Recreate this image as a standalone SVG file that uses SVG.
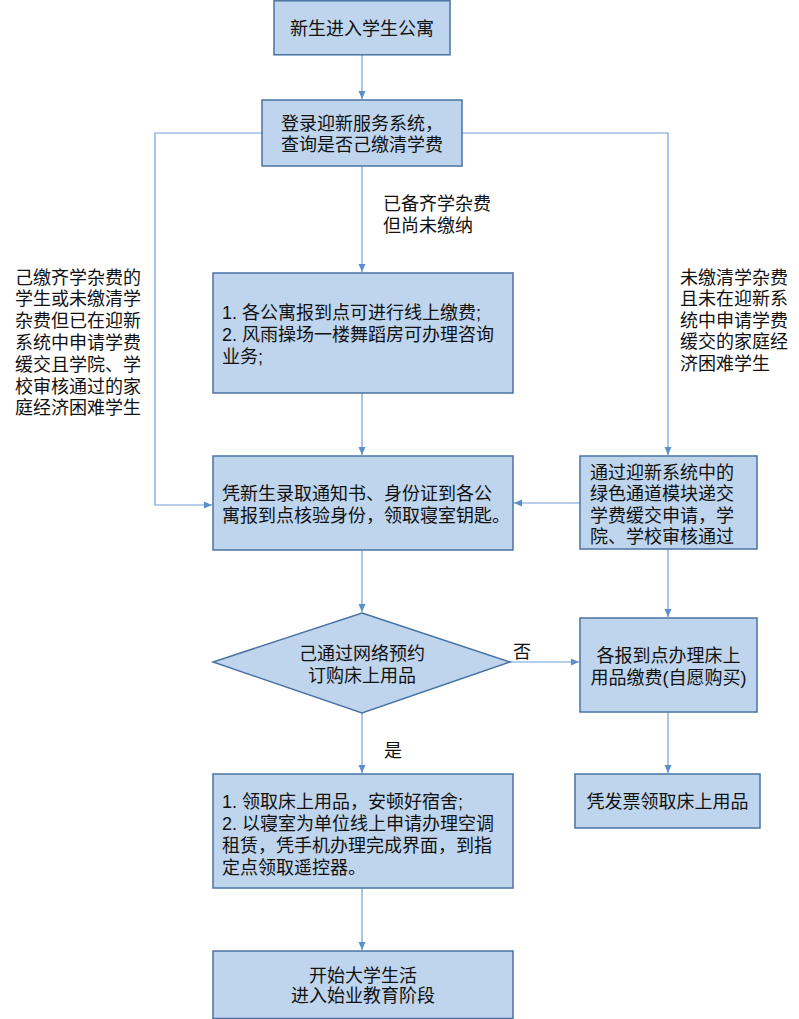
<svg xmlns="http://www.w3.org/2000/svg" width="799" height="1019" viewBox="0 0 799 1019">
<style>
.box{fill:#bed5ed;stroke:#4a73a3;stroke-width:1.5}
.t{font-family:"Liberation Sans","Noto Sans CJK SC",sans-serif;font-size:18px;fill:#111}
.c{text-anchor:middle}
.ln{fill:none;stroke:#6fa0d6;stroke-width:1.2}
</style>
<defs>
<marker id="ah" markerUnits="userSpaceOnUse" markerWidth="10" markerHeight="10" viewBox="0 0 10 10" refX="9" refY="5" orient="auto">
<path d="M1,1.5 L9,5 L1,8.5 z" fill="#5b8fcc"/>
</marker>
</defs>
<rect width="799" height="1019" fill="#fff"/>
<g id="connectors">
<path class="ln" d="M362,55 V99" marker-end="url(#ah)"/>
<path class="ln" d="M362,166 V272" marker-end="url(#ah)"/>
<path class="ln" d="M362,393 V455" marker-end="url(#ah)"/>
<path class="ln" d="M262,133 H155 V505 H212" marker-end="url(#ah)"/>
<path class="ln" d="M462,133 H668 V455" marker-end="url(#ah)"/>
<path class="ln" d="M580,503 H514" marker-end="url(#ah)"/>
<path class="ln" d="M362,550 V612" marker-end="url(#ah)"/>
<path class="ln" d="M668,549 V617" marker-end="url(#ah)"/>
<path class="ln" d="M510,662 H579" marker-end="url(#ah)"/>
<path class="ln" d="M362,713 V773" marker-end="url(#ah)"/>
<path class="ln" d="M668,712 V773" marker-end="url(#ah)"/>
<path class="ln" d="M362,888 V950" marker-end="url(#ah)"/>
</g>
<g id="n1"><rect class="box" x="274" y="0.8" width="176" height="54"/>
<text class="t c" x="362" y="34.5">新生进入学生公寓</text></g>
<g id="n2"><rect class="box" x="262" y="100" width="200" height="66"/>
<text class="t c" x="362" y="129.5">登录迎新服务系统，</text>
<text class="t c" x="362" y="150.5">查询是否己缴清学费</text></g>
<g id="lbl1"><text class="t" x="383" y="209.5">已备齐学杂费</text>
<text class="t" x="383" y="231.5">但尚未缴纳</text></g>
<g id="lbl2">
<text class="t" x="15" y="283.5">己缴齐学杂费的</text>
<text class="t" x="15" y="305.3">学生或未缴清学</text>
<text class="t" x="15" y="327.1">杂费但已在迎新</text>
<text class="t" x="15" y="348.9">系统中申请学费</text>
<text class="t" x="15" y="370.7">缓交且学院、学</text>
<text class="t" x="15" y="392.5">校审核通过的家</text>
<text class="t" x="15" y="414.3">庭经济困难学生</text>
</g>
<g id="lbl3">
<text class="t" x="680" y="283.5">未缴清学杂费</text>
<text class="t" x="680" y="305">且未在迎新系</text>
<text class="t" x="680" y="326.5">统中申请学费</text>
<text class="t" x="680" y="348">缓交的家庭经</text>
<text class="t" x="680" y="369.5">济困难学生</text>
</g>
<g id="n3"><rect class="box" x="213" y="273" width="300" height="120"/>
<text class="t" x="222" y="318.5">1. 各公寓报到点可进行线上缴费;</text>
<text class="t" x="222" y="340.8">2. 风雨操场一楼舞蹈房可办理咨询</text>
<text class="t" x="222" y="363.1">业务;</text></g>
<g id="n4"><rect class="box" x="213" y="456" width="300" height="94"/>
<text class="t" x="222" y="499.5">凭新生录取通知书、身份证到各公</text>
<text class="t" x="222" y="521.5">寓报到点核验身份，领取寝室钥匙。</text></g>
<g id="n5"><rect class="box" x="580" y="456" width="177" height="93"/>
<text class="t" x="590" y="478.5">通过迎新系统中的</text>
<text class="t" x="590" y="500">绿色通道模块递交</text>
<text class="t" x="590" y="521.5">学费缓交申请，学</text>
<text class="t" x="590" y="543">院、学校审核通过</text></g>
<g id="n6"><polygon class="box" points="362,613 510,662 362,713 213,662"/>
<text class="t c" x="362" y="659.5">己通过网络预约</text>
<text class="t c" x="362" y="681.5">订购床上用品</text></g>
<text class="t" x="513" y="657.5">否</text>
<text class="t" x="384" y="756.5">是</text>
<g id="n7"><rect class="box" x="580" y="618" width="177" height="94"/>
<text class="t c" x="668.5" y="661.5">各报到点办理床上</text>
<text class="t c" x="668.5" y="683.5">用品缴费(自愿购买)</text></g>
<g id="n8"><rect class="box" x="575" y="774" width="185" height="54"/>
<text class="t c" x="667.5" y="807.5">凭发票领取床上用品</text></g>
<g id="n9"><rect class="box" x="213" y="774" width="300" height="114"/>
<text class="t" x="222" y="807.5">1. 领取床上用品，安顿好宿舍;</text>
<text class="t" x="222" y="829.5">2. 以寝室为单位线上申请办理空调</text>
<text class="t" x="222" y="851.5">租赁，凭手机办理完成界面，到指</text>
<text class="t" x="222" y="873.5">定点领取遥控器。</text></g>
<g id="n10"><rect class="box" x="213" y="951" width="300" height="67.5"/>
<text class="t c" x="363" y="981.5">开始大学生活</text>
<text class="t c" x="363" y="1001.5">进入始业教育阶段</text></g>
</svg>
